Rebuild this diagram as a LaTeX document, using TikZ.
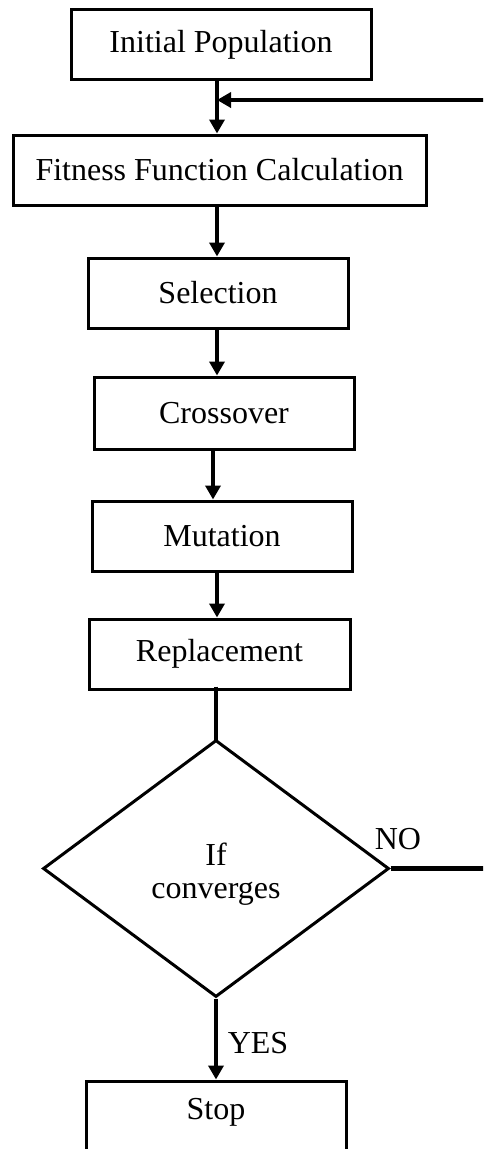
\documentclass[tikz,border=0pt]{standalone}
\usepackage{fontspec}
\setmainfont{Liberation Serif}
\usetikzlibrary{shapes.geometric,arrows.meta}
\begin{document}
\begin{tikzpicture}[x=1pt,y=-1pt,
  box/.style={draw,line width=3pt,minimum height=70pt,inner sep=0pt,
    font=\fontsize{32}{36}\selectfont},
  dec/.style={draw,diamond,line width=3pt,minimum width=346pt,minimum height=257pt,
    inner sep=0pt},
  lbl/.style={font=\fontsize{32}{33}\selectfont,inner sep=0pt,align=center},
  flow/.style={line width=4.2pt},
  arr/.style={flow,-{Triangle[length=14pt,width=15pt]}}]
\useasboundingbox (0,0) rectangle (483,1149);
\clip (0,0) rectangle (483,1149);
\fill[white] (0,0) rectangle (483,1149);

\coordinate (axis) at (217,0);
\coordinate (loopx) at (495,0);

\node[box,minimum width=300pt] (init) at (221,44.5) {Initial Population};
\node[box,minimum width=413pt] (fit) at (219.5,170) {Fitness Function Calculation};
\node[box,minimum width=260pt] (sel) at (218,293) {Selection};
\node[box,minimum width=260pt,minimum height=72pt] (cross) at (224,413) {Crossover};
\node[box,minimum width=260pt] (mut) at (222,536) {Mutation};
\node[box,minimum width=261pt] (rep) at (219.5,654) {Replacement};
\node[dec] (conv) at (216,868.5) {};
\node[lbl] (convtext) at ([yshift=-6pt]conv.center) {If\\converges};
\node[box,minimum width=260pt,minimum height=80pt] (stop) at (216,1121) {};
\node[lbl] (stoptext) at (216,1112) {Stop};

\coordinate (merge) at (217,100);
\draw[arr] (init.south -| axis) -- (fit.north -| axis);
\draw[arr] (fit.south -| axis) -- (sel.north -| axis);
\draw[arr] (sel.south -| axis) -- (cross.north -| axis);
\draw[arr] ([xshift=-4pt]cross.south -| axis) -- ([xshift=-4pt]mut.north -| axis);
\draw[arr] (mut.south -| axis) -- (rep.north -| axis);
\draw[flow] ([yshift=4pt]rep.south -| conv.north) -- ([yshift=-2pt]conv.north);
\draw[arr] (conv.south) -- (stop.north);

% loop back from the decision to the fitness step
\draw[flow] (conv.east) -- (conv.east -| loopx) -- (merge -| loopx);
\draw[arr] (merge -| loopx) -- (merge);

\node[lbl] (no) at (398,839) {NO};
\node[lbl] (yes) at (258,1043) {YES};
\end{tikzpicture}
\end{document}
